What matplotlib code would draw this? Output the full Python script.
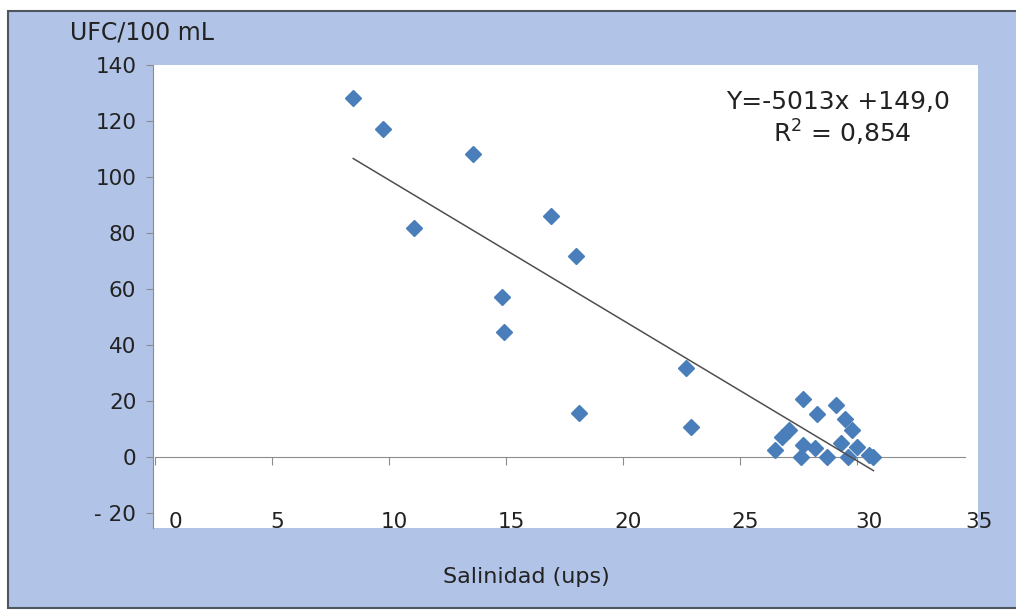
import matplotlib
matplotlib.use('Agg')
import matplotlib.pyplot as plt
import matplotlib.transforms as mtransforms
from matplotlib.patches import Rectangle

# salinity (ups) vs coliforms (UFC/100 mL)
sal = [8.46, 9.74, 11.07, 13.6, 14.8, 14.9, 16.9, 18.0, 18.1, 22.7, 22.9,
       27.7, 28.3, 29.1, 29.5, 29.8, 27.1, 26.8, 26.5, 27.7, 27.6, 28.2,
       28.7, 29.3, 29.6, 30.0, 30.5, 30.7]
ufc = [128.2, 117.1, 81.8, 108.2, 57.1, 44.6, 86.1, 71.8, 15.7, 31.8, 10.7,
       20.7, 15.4, 18.6, 13.6, 9.6, 9.6, 7.1, 2.5, 4.3, 0.0, 3.2,
       0.0, 5.0, 0.0, 3.6, 0.7, 0.0]

slope = -5.013
intercept = 149.0
eq_text = 'Y=-5013x +149,0'
r2_text = 'R$^2$ = 0,854'

xticks = [0, 5, 10, 15, 20, 25, 30, 35]
yticks = [-20, 0, 20, 40, 60, 80, 100, 120, 140]
ylabels = ['- 20', '0', '20', '40', '60', '80', '100', '120', '140']

fs = 15.5
txt = '#222222'
axcol = '#8c8c8c'

fig = plt.figure(figsize=(10.16, 6.14), dpi=100)
fig.patch.set_facecolor('white')

# blue chart frame
fig.patches.append(Rectangle((8/1016, 1-608/614), 1.0, (608-11)/614,
                             transform=fig.transFigure, facecolor='#b1c3e7',
                             edgecolor='#4d5560', linewidth=1.5, zorder=-1))

ax = fig.add_axes([153/1016, 1-528/614, (978-153)/1016, (528-65)/614])
ax.set_zorder(1)
ax.set_facecolor('white')
ax.set_xlim(-0.1, 35.17)
ax.set_ylim(-25.4, 140)

ax.plot(sal, ufc, linestyle='none', marker='D', markersize=8.5,
        color='#4a7ebb', markeredgecolor='#4a7ebb', zorder=3)

xs = [min(sal), max(sal)]
ax.plot(xs, [slope*x + intercept for x in xs], color='#4f4f4f', lw=1.1, zorder=4)

for s in ['top', 'right']:
    ax.spines[s].set_visible(False)
ax.spines['left'].set_color(axcol)
ax.spines['bottom'].set_position(('data', 0))
ax.spines['bottom'].set_bounds(0, 34.6)
ax.spines['bottom'].set_color(axcol)

ax.set_yticks(yticks)
ax.set_yticklabels(ylabels)
ax.tick_params(axis='y', direction='out', length=5, color=axcol,
               labelsize=fs, labelcolor=txt, pad=7)
ax.set_xticks(xticks[:-1])
ax.tick_params(axis='x', direction='out', length=6, color=axcol, labelbottom=False)

# x labels sit on the bottom edge of the plot area, like the original
trans = ax.get_xaxis_transform()
for v in xticks:
    dx = 20 if v == 0 else (12 if v == 30 else 5)
    off = mtransforms.ScaledTranslation(dx/100, 0, fig.dpi_scale_trans)
    ax.text(v, 0.013, str(v), transform=trans + off, ha='center', va='center',
            fontsize=fs, color=txt, clip_on=False)

ax.text(838/1016, 1-102/614, eq_text, transform=fig.transFigure, ha='center',
        va='center', fontsize=18, color=txt)
ax.text(842/1016, 1-133/614, r2_text, transform=fig.transFigure, ha='center',
        va='center', fontsize=18, color=txt)

fig.text(70/1016, 1-32/614, 'UFC/100 mL', ha='left', va='center',
         fontsize=17, color=txt)
fig.text(526/1016, 1-577/614, 'Salinidad (ups)', ha='center', va='center',
         fontsize=16, color=txt)

fig.savefig('out.png', dpi=100, facecolor=fig.get_facecolor())
